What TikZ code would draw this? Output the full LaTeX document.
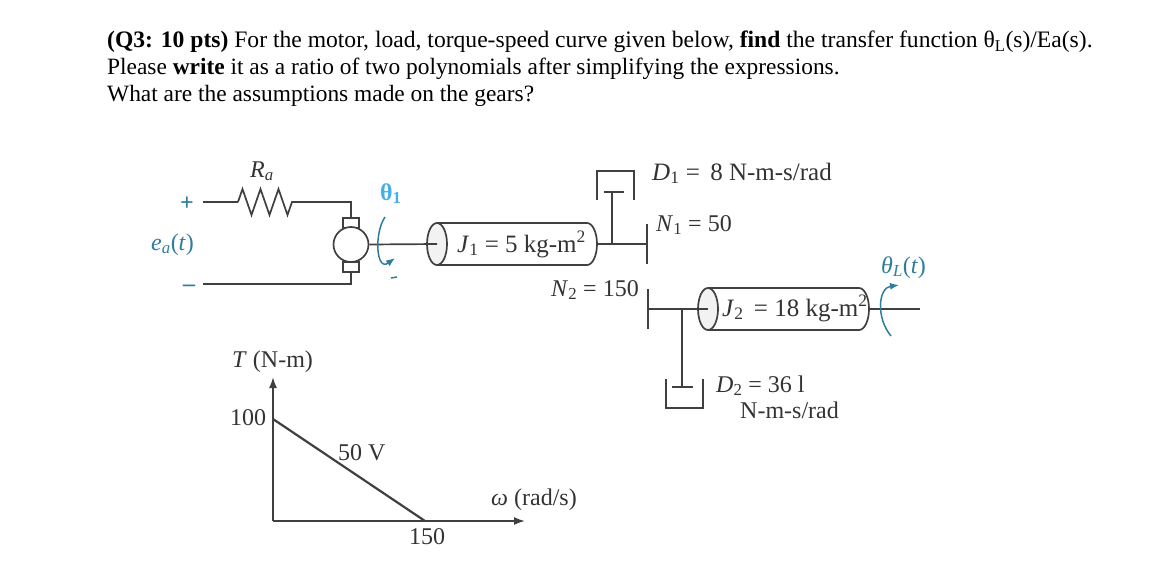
\documentclass[tikz,border=0pt]{standalone}
\usepackage{fontspec}
\setmainfont{Liberation Serif}
\usepackage{xcolor}
\usetikzlibrary{positioning, shapes.geometric, arrows.meta, decorations.pathmorphing}
\definecolor{tealink}{HTML}{2F7C9C}
\definecolor{skyink}{HTML}{45AEEA}
\definecolor{wireink}{HTML}{404040}
\newcommand{\isub}[1]{\textsubscript{#1}}

\begin{document}
\begin{tikzpicture}[x=1pt, y=-1pt, >={Latex[length=11pt, width=8pt]},
    wire/.style={line width=1.7pt, wireink},
    label/.style={inner sep=0pt, anchor=base west, font=\fontsize{24}{26}\selectfont, text=black!80},
    biglabel/.style={label, font=\fontsize{25}{26}\selectfont},
    headline/.style={inner sep=0pt, anchor=base west, font=\fontsize{23.6}{27}\selectfont},
    subline/.style={headline, font=\fontsize{23.4}{27}\selectfont},
    disc/.style={ellipse, draw=wireink, line width=1.7pt, fill=black!5, inner sep=0pt, minimum width=20pt, minimum height=42pt},
    brush/.style={rectangle, draw=wireink, line width=1.5pt, fill=white, inner sep=0pt, minimum width=16pt, minimum height=10pt},
    turn/.style={line width=1.5pt, tealink}]
  \useasboundingbox (0,0) rectangle (1151,570);

  % question text
  \node[headline] (lineone) at (107,47.5) {\textbf{(Q3: 10 pts)} For the motor, load, torque-speed curve given below, \textbf{find} the transfer function θ\isub{L}(s)/Ea(s).};
  \node[subline] (linetwo) at (107,74.5) {Please \textbf{write} it as a ratio of two polynomials after simplifying the expressions.};
  \node[subline] (linethree) at (107,101.5) {What are the assumptions made on the gears?};

  % armature circuit
  \coordinate (topstart) at (203,202);
  \coordinate (Rin) at (238,202);
  \coordinate (Rout) at (293,202);
  \coordinate (topcorner) at (351,202);
  \coordinate (botstart) at (203,284);
  \coordinate (botcorner) at (351,284);
  \node[brush] (brushtop) at (351,223) {};
  \node[brush] (brushbot) at (351,267) {};
  \node[circle, draw=wireink, line width=1.7pt, fill=white, inner sep=0pt, minimum size=35pt] (motor) at (351,244.5) {};
  \draw[wire] (topstart) -- (Rin);
  \draw[wire, decorate, decoration={zigzag, segment length=18pt, amplitude=13pt}] (Rin) -- (Rout);
  \draw[wire] (Rout) -- (topcorner) -- (brushtop.north);
  \draw[wire] (botstart) -- (botcorner) -- (brushbot.south);
  \node[label, text=tealink] (plus) at (180,210) {\textbf{+}};
  \node[label, text=tealink] (minus) at (183,291) {\textbf{–}};
  \node[label, text=tealink] (ea) at (151,250) {\textit{e}\isub{\textit{a}}(\textit{t})};
  \node[label] (Ra) at (250,177) {\textit{R}\isub{\textit{a}}};
  \node[label, text=skyink] (thetaone) at (380,200) {\textbf{θ\isub{1}}};

  % first inertia with damper and gear
  \node[disc] (Jone) at (437,244) {};
  \coordinate (Jonetop) at (437,223);
  \coordinate (Jonebot) at (437,265);
  \draw[wire] (Jonetop) -- (587,223) arc (-90:90:10 and 21) -- (Jonebot);
  \draw[wire] (motor.east) -- (Jone.center);
  \node[biglabel] (Jonetext) at (457,252) {\textit{J}\isub{1} = 5 kg-m\textsuperscript{2}};
  \coordinate (shaftone) at (597,244);
  \coordinate (gearone) at (647,244);
  \coordinate (rodone) at (612,244);
  \coordinate (plateone) at (612,192);
  \draw[wire] (shaftone) -- (gearone);
  \draw[wire] (647,224) -- (647,264);
  \draw[wire] (rodone) -- (plateone);
  \draw[wire] (604,192) -- (624,192);
  \draw[wire] (597,200) -- (597,171) -- (634,171) -- (634,200);
  \node[biglabel] (Done) at (652,180) {\textit{D}\isub{1} =\, 8 N-m-s/rad};
  \node[label] (None) at (656,231) {\textit{N}\isub{1} = 50};
  \node[label] (Ntwo) at (551,296) {\textit{N}\isub{2} = 150};

  % second inertia with damper and gear
  \node[disc] (Jtwo) at (708,309) {};
  \coordinate (Jtwotop) at (708,288);
  \coordinate (Jtwobot) at (708,330);
  \draw[wire] (Jtwotop) -- (859,288) arc (-90:90:10 and 21) -- (Jtwobot);
  \coordinate (geartwo) at (648,309);
  \coordinate (rodtwo) at (682,309);
  \coordinate (platetwo) at (682,387);
  \coordinate (shaftend) at (920,309);
  \coordinate (shafttwo) at (869,309);
  \draw[wire] (geartwo) -- (Jtwo.center);
  \draw[wire] (648,289) -- (648,329);
  \draw[wire] (shafttwo) -- (shaftend);
  \draw[wire] (rodtwo) -- (platetwo);
  \draw[wire] (672,387) -- (693,387);
  \draw[wire] (666,379) -- (666,408) -- (703,408) -- (703,379);
  \node[biglabel] (Jtwotext) at (722,316) {\textit{J}\isub{2} \,= 18 kg-m\textsuperscript{2}};
  \node[label] (Dtwo) at (716,392) {\textit{D}\isub{2} = 36 l};
  \node[label] (Dtwounit) at (740,418) {N-m-s/rad};
  \node[label, text=tealink] (thetaL) at (881,273) {\textit{θ}\isub{\textit{L}}(\textit{t})};

  % rotation arrows
  \draw[turn, -{Latex[length=9pt, width=7pt]}] (385,217) .. controls (374,233) and (376,272) .. (395,258);
  \draw[turn] (391,278) -- (397,277);
  \draw[turn, -{Latex[length=9pt, width=7pt]}] (891,336) .. controls (876,318) and (878,288) .. (899,285);

  % torque-speed curve
  \coordinate (origin) at (273,521);
  \coordinate (Tend) at (273,377);
  \coordinate (wend) at (525,521);
  \coordinate (Tstall) at (273,419);
  \coordinate (wnoload) at (425,521);
  \draw[wire, ->] (origin) -- (Tend);
  \draw[wire, ->] (origin) -- (wend);
  \draw[wire, line width=2.2pt] (Tstall) -- (wnoload);
  \node[label] (Tlabel) at (232,367) {\textit{T} (N-m)};
  \node[label] (hundred) at (230,425) {100};
  \node[label] (fifty) at (338,460) {50 V};
  \node[label] (omega) at (491,505) {\textit{ω} (rad/s)};
  \node[label] (onefifty) at (409,544) {150};
\end{tikzpicture}
\end{document}
